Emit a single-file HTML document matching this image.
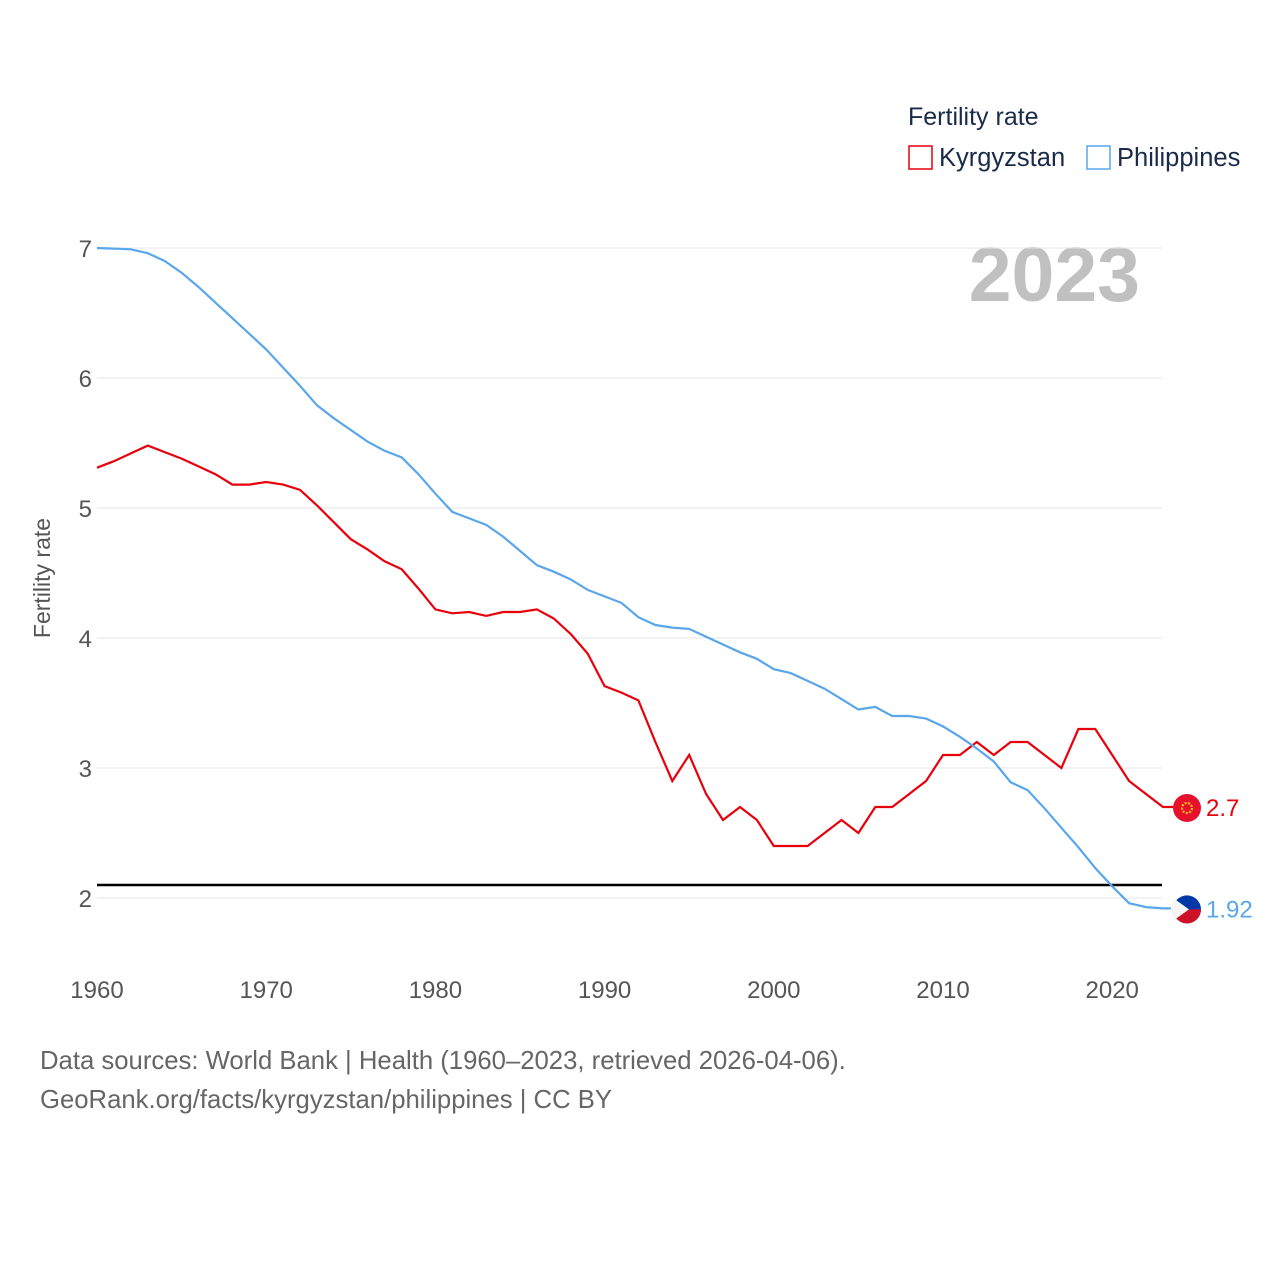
<!DOCTYPE html>
<html><head><meta charset="utf-8"><style>
body{margin:0;background:#fff;font-family:"Liberation Sans",sans-serif}
</style></head><body>
<svg id="chart" width="1280" height="1280" xmlns="http://www.w3.org/2000/svg" style="display:block">
<rect width="1280" height="1280" fill="#fff"/>
<text x="908" y="125" font-size="25" fill="#1a2b4a">Fertility rate</text>
<rect x="909" y="146" width="23" height="23" fill="none" stroke="#e8000b" stroke-width="1.5"/>
<text x="939" y="166" font-size="25.5" fill="#1a2b4a">Kyrgyzstan</text>
<rect x="1087" y="146" width="23" height="23" fill="none" stroke="#5aa6ea" stroke-width="1.5"/>
<text x="1117" y="166" font-size="25.5" fill="#1a2b4a">Philippines</text>
<text x="1140" y="301" font-size="77" font-weight="bold" fill="#c0c0c0" text-anchor="end">2023</text>
<text transform="translate(50,578) rotate(-90)" font-size="23" fill="#555" text-anchor="middle">Fertility rate</text>
<g id="grid"></g><g id="series"></g>
<text x="40" y="1069" font-size="25.7" fill="#666">Data sources: World Bank | Health (1960–2023, retrieved 2026-04-06).</text>
<text x="40" y="1108" font-size="25.7" fill="#666">GeoRank.org/facts/kyrgyzstan/philippines | CC BY</text>
</svg>
<script>
const years=[];for(let y=1960;y<=2023;y++)years.push(y);
const yTicks=[2,3,4,5,6,7];
const xTicks=[1960,1970,1980,1990,2000,2010,2020];
const replacement=2.1;
const kyrgyzstan=[5.31,5.36,5.42,5.48,5.43,5.38,5.32,5.26,5.18,5.18,5.20,5.18,5.14,5.02,4.89,4.76,4.68,4.59,4.53,4.38,4.22,4.19,4.20,4.17,4.20,4.20,4.22,4.15,4.03,3.88,3.63,3.58,3.52,3.2,2.9,3.1,2.8,2.6,2.7,2.6,2.4,2.4,2.4,2.5,2.6,2.5,2.7,2.7,2.8,2.9,3.1,3.1,3.2,3.1,3.2,3.2,3.1,3.0,3.3,3.3,3.1,2.9,2.8,2.7];
const philippines=[7.0,6.995,6.99,6.96,6.9,6.81,6.70,6.58,6.46,6.34,6.22,6.08,5.94,5.79,5.69,5.60,5.51,5.44,5.39,5.26,5.11,4.97,4.92,4.87,4.78,4.67,4.56,4.51,4.45,4.37,4.32,4.27,4.16,4.10,4.08,4.07,4.01,3.95,3.89,3.84,3.76,3.73,3.67,3.61,3.53,3.45,3.47,3.40,3.40,3.38,3.32,3.24,3.15,3.05,2.89,2.83,2.69,2.54,2.39,2.23,2.09,1.96,1.93,1.92];
const NS="http://www.w3.org/2000/svg";
const X=v=>97+(v-1960)*16.92;
const Y=v=>248+(7-v)*130;
function mk(t,a,p){const e=document.createElementNS(NS,t);for(const k in a)e.setAttribute(k,a[k]);p.appendChild(e);return e;}
const g=document.getElementById('grid'),s=document.getElementById('series');
yTicks.forEach(t=>{
 const l=mk('line',{x1:97,x2:1162,y1:Y(t),y2:Y(t),stroke:'#e6e6e6','stroke-width':1},g);
 
 
 const tx=mk('text',{x:92,y:Y(t)+9,'font-size':24,fill:'#555','text-anchor':'end'},g);tx.textContent=t;
 
 
});
xTicks.forEach(t=>{
 const tx=mk('text',{x:X(t),y:998,'font-size':24,fill:'#555','text-anchor':'middle'},g);tx.textContent=t;
 
 
});
const rl=mk('line',{x1:97,x2:1162,y1:Y(replacement),y2:Y(replacement),stroke:'#000','stroke-width':2.5},g);


function line(d,c,n){
 const p=mk('path',{d:d.map((v,i)=>(i?'L':'M')+X(years[i]).toFixed(1)+','+Y(v).toFixed(1)).join('')+'h10',fill:'none',stroke:c,'stroke-width':2.2},s);
 
 
 const last=d[d.length-1],ly=Y(last);
 const f=mk('circle',{cx:1187,cy:ly+1,r:14,fill:n==='kyrgyzstan'?'#e8112d':'#0038a8'},s);
 
 
 if(n==='kyrgyzstan'){const sun=mk('circle',{cx:1187,cy:ly+1,r:5,fill:'none',stroke:'#ffd400','stroke-width':2,'stroke-dasharray':'2 1.5'},s);
  }
 else{const r=mk('path',{d:`M1173,${ly+1}L1201,${ly+1}A14,14 0 0 1 1173,${ly+1}Z`,fill:'#ce1126'},s);
  
  const tri=mk('path',{d:`M1175,${ly-9}L1189,${ly+1}L1175,${ly+11}A14,14 0 0 1 1175,${ly-9}Z`,fill:'#f5f5f5'},s);
  }
 const t=mk('text',{x:1206,y:ly+9,'font-size':24,fill:c},s);t.textContent=last;
 
 
}
line(kyrgyzstan,'#e8000b','kyrgyzstan');
line(philippines,'#5aa6ea','philippines');
</script>
</body></html>
